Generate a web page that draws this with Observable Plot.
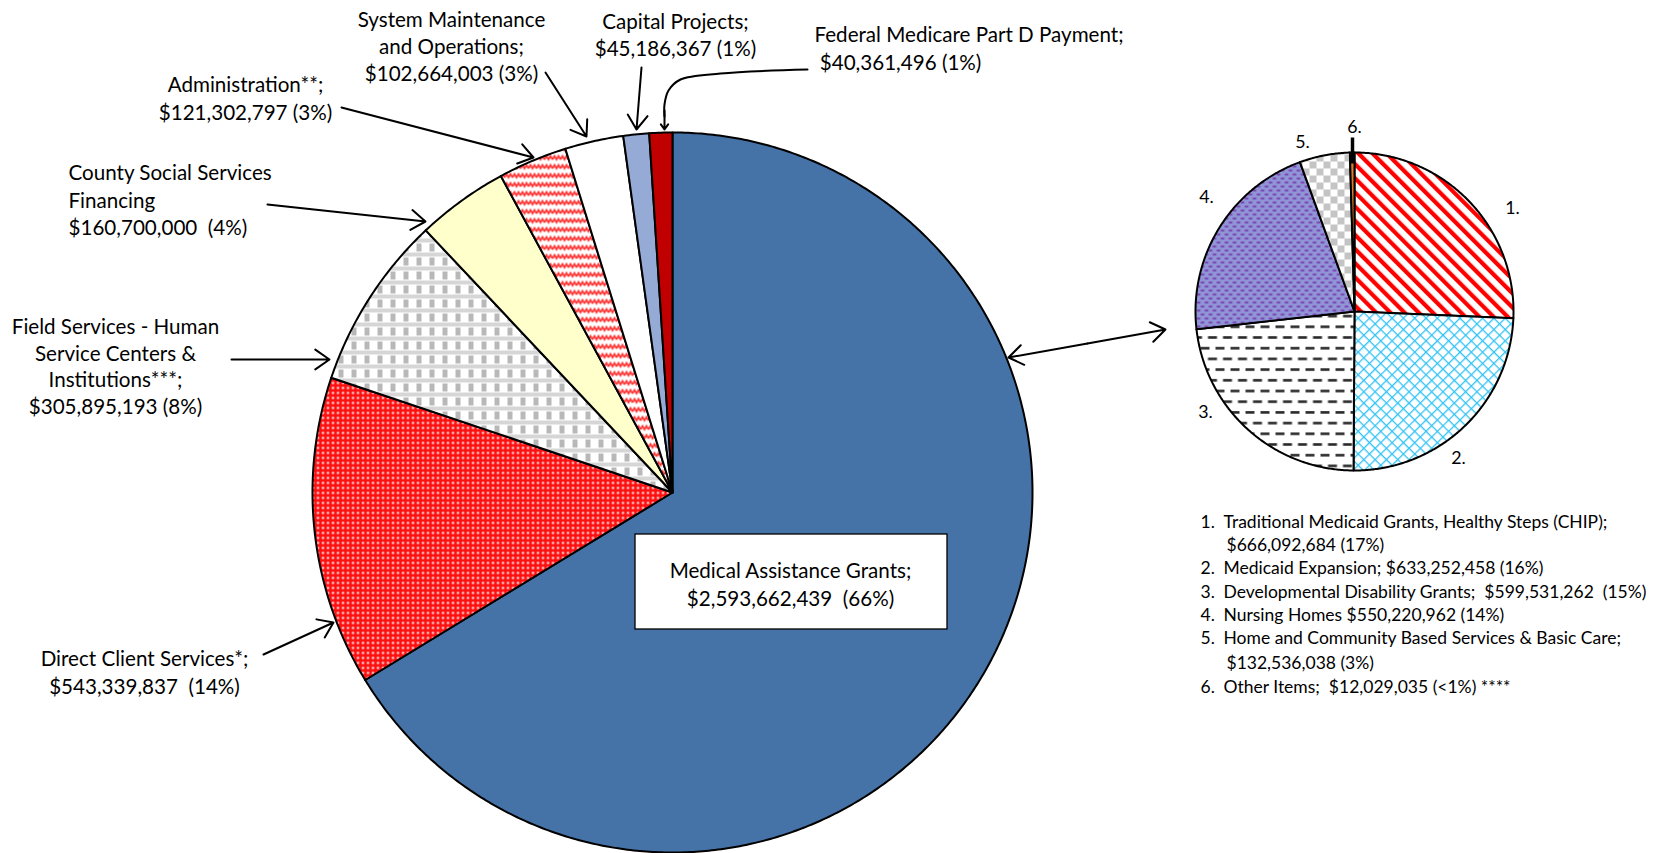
<!DOCTYPE html>
<html><head><meta charset="utf-8">
<script src="https://cdn.jsdelivr.net/npm/d3@7"></script>
<script src="https://cdn.jsdelivr.net/npm/@observablehq/plot@0.6"></script>
<style>
html,body{margin:0;padding:0;background:#fff;}
#chart svg text{white-space:pre;}
</style></head><body>
<svg width="0" height="0" style="position:absolute">
<defs>
  <pattern id="pDots" width="5" height="5" patternUnits="userSpaceOnUse">
    <rect width="5" height="5" fill="#FF1010"/><circle cx="2.5" cy="2.5" r="1.15" fill="#ffffff"/>
  </pattern>
  <pattern id="pPlaid" width="13" height="14" patternUnits="userSpaceOnUse">
    <rect width="13" height="14" fill="#ffffff"/>
    <rect x="0" y="0" width="13" height="4" fill="#d6d6d6"/>
    <rect x="0" y="5" width="5" height="8" fill="#b8b8b8"/>
  </pattern>
  <pattern id="pWave" width="8" height="9" patternUnits="userSpaceOnUse">
    <rect width="8" height="9" fill="#ffffff"/>
    <path d="M0,6 L2,2.5 L4,6 L6,2.5 L8,6" fill="none" stroke="#FF3030" stroke-width="1.7"/>
  </pattern>
  <pattern id="pStripes" width="10" height="10" patternUnits="userSpaceOnUse" patternTransform="rotate(-45)">
    <rect width="10" height="10" fill="#ffffff"/><rect x="0" y="0" width="4.2" height="10" fill="#FF0000"/>
  </pattern>
  <pattern id="pCross" width="8" height="8" patternUnits="userSpaceOnUse" patternTransform="rotate(45)">
    <rect width="8" height="8" fill="#ffffff"/>
    <rect x="0" y="0" width="1.3" height="8" fill="#33C3F5"/>
    <rect x="0" y="0" width="8" height="1.3" fill="#33C3F5"/>
  </pattern>
  <pattern id="pDash" width="15" height="21.4" patternUnits="userSpaceOnUse">
    <rect width="15" height="21.4" fill="#ffffff"/>
    <rect x="0" y="4" width="9" height="2.6" fill="#2a2a2a"/>
    <rect x="7.5" y="14.7" width="9" height="2.6" fill="#2a2a2a"/>
    <rect x="-7.5" y="14.7" width="9" height="2.6" fill="#2a2a2a"/>
  </pattern>
  <pattern id="pPurple" width="8" height="8" patternUnits="userSpaceOnUse">
    <rect width="8" height="8" fill="#9095D6"/>
    <ellipse cx="2" cy="2" rx="2.2" ry="1.1" fill="#7A3DB0"/>
    <ellipse cx="6" cy="6" rx="2.2" ry="1.1" fill="#7A3DB0"/>
  </pattern>
  <pattern id="pCheck" width="14" height="14" patternUnits="userSpaceOnUse">
    <rect width="14" height="14" fill="#ffffff"/>
    <rect x="0" y="0" width="7" height="7" fill="#c4c4c4"/>
    <rect x="7" y="7" width="7" height="7" fill="#c4c4c4"/>
  </pattern>
</defs></svg>
<div id="chart"></div>
<script>
// ---------- DATA ----------
const mainCategories = ["Medical Assistance Grants","Direct Client Services","Field Services - Human Service Centers & Institutions","County Social Services Financing","Administration","System Maintenance and Operations","Capital Projects","Federal Medicare Part D Payment"];
const mainValues = [2593662439, 543339837, 305895193, 160700000, 121302797, 102664003, 45186367, 40361496];
const mainLabelLines = [
  ["Medical Assistance Grants;", "$2,593,662,439  (66%)"],
  ["Direct Client Services*;", "$543,339,837  (14%)"],
  ["Field Services - Human", "Service Centers &", "Institutions***;", "$305,895,193 (8%)"],
  ["County Social Services", "Financing", "$160,700,000  (4%)"],
  ["Administration**;", "$121,302,797 (3%)"],
  ["System Maintenance", "and Operations;", "$102,664,003 (3%)"],
  ["Capital Projects;", "$45,186,367 (1%)"],
  ["Federal Medicare Part D Payment;", " $40,361,496 (1%)"]
];
const subCategories = ["Traditional Medicaid Grants, Healthy Steps (CHIP)","Medicaid Expansion","Developmental Disability Grants","Nursing Homes","Home and Community Based Services & Basic Care","Other Items"];
const subValues = [666092684, 633252458, 599531262, 550220962, 132536038, 12029035];
const subNumbers = ["1.", "2.", "3.", "4.", "5.", "6."];
const legendLines = [
  ["Traditional Medicaid Grants, Healthy Steps (CHIP);", "$666,092,684 (17%)"],
  ["Medicaid Expansion; $633,252,458 (16%)"],
  ["Developmental Disability Grants;  $599,531,262  (15%)"],
  ["Nursing Homes $550,220,962 (14%)"],
  ["Home and Community Based Services & Basic Care;", "$132,536,038 (3%)"],
  ["Other Items;  $12,029,035 (<1%) ****"]
];

// ---------- STYLE / LAYOUT ----------
const W = 1653, H = 853;
const mainFills = ["#4673A7","url(#pDots)","url(#pPlaid)","#FFFFCC","url(#pWave)","#FFFFFF","#95ABD5","#C00000"];
const subFills = ["url(#pStripes)","url(#pCross)","url(#pDash)","url(#pPurple)","url(#pCheck)","#E07B2A"];
const mainPie = {cx: 672, cy: 492, r: 360};
const subPie = {cx: 1354, cy: 311, r: 159};
const mainLabelPos = [
  {x: 790, y: 571, anchor: "middle", step: 28},
  {x: 144, y: 659, anchor: "middle", step: 28},
  {x: 115, y: 327, anchor: "middle", step: 26.7},
  {x: 68,  y: 173, anchor: "start",  step: 27.5},
  {x: 245, y: 85,  anchor: "middle", step: 28},
  {x: 451, y: 20,  anchor: "middle", step: 27},
  {x: 675, y: 22,  anchor: "middle", step: 27},
  {x: 814, y: 35,  anchor: "start",  step: 28}
];
const arrowPos = [
  null,
  [263,654,333,622],
  [231,359,329,359],
  [267,204,425,221],
  [341,107,533,157],
  [545,72,586,136],
  [641,67,636,129],
  null
];
const federalCurve = [[807,69],[720,73],[680,79],[668,90],[664,104],[664,116]];
const subLabelPos = [[1512,208],[1458,458],[1205,412],[1206,197],[1302,142],[1354,127]];
const legendY = [521.7, 545, 568.3, 591.7, 615, 638.3, 662.7, 686.7];

// ---------- GEOMETRY FROM VALUES ----------
function pieSlices(values, pie) {
  const arcs = d3.pie().sort(null).startAngle(0).endAngle(2 * Math.PI)(values);
  return arcs.map((a, i) => {
    const pts = [{x: pie.cx, y: pie.cy}];
    const n = Math.max(2, Math.ceil((a.endAngle - a.startAngle) / (Math.PI / 360)));
    for (let k = 0; k <= n; k++) {
      const t = a.startAngle + (a.endAngle - a.startAngle) * k / n;
      pts.push({x: pie.cx + pie.r * Math.sin(t), y: pie.cy - pie.r * Math.cos(t)});
    }
    return pts;
  });
}
const mainPolys = pieSlices(mainValues, mainPie);
const subPolys = pieSlices(subValues, subPie);

const marks = [];
mainPolys.forEach((pts, i) => marks.push(Plot.line(pts, {x: "x", y: "y", curve: "linear-closed", fill: mainFills[i], stroke: "black", strokeWidth: 2, strokeLinejoin: "round"})));
subPolys.forEach((pts, i) => marks.push(Plot.line(pts, {x: "x", y: "y", curve: "linear-closed", fill: subFills[i], stroke: "black", strokeWidth: 2, strokeLinejoin: "round"})));

// Medical box
marks.push(Plot.rect([{x1: 635, y1: 534, x2: 947, y2: 629}], {x1: "x1", y1: "y1", x2: "x2", y2: "y2", fill: "white", stroke: "black", strokeWidth: 1.3}));

// main labels
const labelRows = [];
mainLabelLines.forEach((lines, i) => {
  const p = mainLabelPos[i];
  lines.forEach((t, j) => labelRows.push({x: p.x, y: p.y + j * p.step, text: t, anchor: p.anchor}));
});
marks.push(Plot.text(labelRows.filter(d => d.anchor === "middle"), {x: "x", y: "y", text: "text", textAnchor: "middle", fontSize: 20.6, fill: "black"}));
marks.push(Plot.text(labelRows.filter(d => d.anchor === "start"), {x: "x", y: "y", text: "text", textAnchor: "start", fontSize: 20.6, fill: "black"}));

// arrows
const arrowRows = arrowPos.map((a, i) => a && {x1: a[0], y1: a[1], x2: a[2], y2: a[3], cat: mainCategories[i]}).filter(Boolean);
marks.push(Plot.arrow(arrowRows, {x1: "x1", y1: "y1", x2: "x2", y2: "y2", stroke: "black", strokeWidth: 2, headLength: 13, headAngle: 70}));
marks.push(Plot.line(federalCurve.map(([x, y]) => ({x, y})), {x: "x", y: "y", curve: "catmull-rom", stroke: "black", strokeWidth: 2}));
marks.push(Plot.arrow([{x1: 664, y1: 110, x2: 664, y2: 129}], {x1: "x1", y1: "y1", x2: "x2", y2: "y2", stroke: "black", strokeWidth: 2, headLength: 13, headAngle: 70}));
// double arrow between pies
marks.push(Plot.arrow([{x1: 1087, y1: 343, x2: 1008, y2: 357}, {x1: 1087, y1: 343, x2: 1165, y2: 329}], {x1: "x1", y1: "y1", x2: "x2", y2: "y2", stroke: "black", strokeWidth: 2, headLength: 13, headAngle: 70}));

// small pie labels
marks.push(Plot.text(subNumbers.map((t, i) => ({x: subLabelPos[i][0], y: subLabelPos[i][1], text: t})), {x: "x", y: "y", text: "text", fontSize: 17.8, fill: "black"}));
marks.push(Plot.link([{x1: 1352, y1: 137, x2: 1352, y2: 163}], {x1: "x1", y1: "y1", x2: "x2", y2: "y2", stroke: "black", strokeWidth: 3.5}));

// legend
const legendRows = [];
let li = 0;
legendLines.forEach((lines, i) => {
  lines.forEach((t, j) => {
    if (j === 0) legendRows.push({x: 1200, y: legendY[li], text: subNumbers[i]});
    legendRows.push({x: j === 0 ? 1223 : 1226, y: legendY[li], text: t});
    li++;
  });
});
marks.push(Plot.text(legendRows, {x: "x", y: "y", text: "text", textAnchor: "start", fontSize: 17.5, fill: "black"}));

const chart = Plot.plot({
  width: W, height: H,
  marginTop: 0, marginRight: 0, marginBottom: 0, marginLeft: 0,
  x: {domain: [0, W], range: [0, W], axis: null},
  y: {domain: [0, H], range: [0, H], axis: null},
  style: {fontFamily: "Lato, 'Open Sans', sans-serif", background: "white", overflow: "visible"},
  marks
});
document.getElementById("chart").appendChild(chart);
</script>
</body></html>
